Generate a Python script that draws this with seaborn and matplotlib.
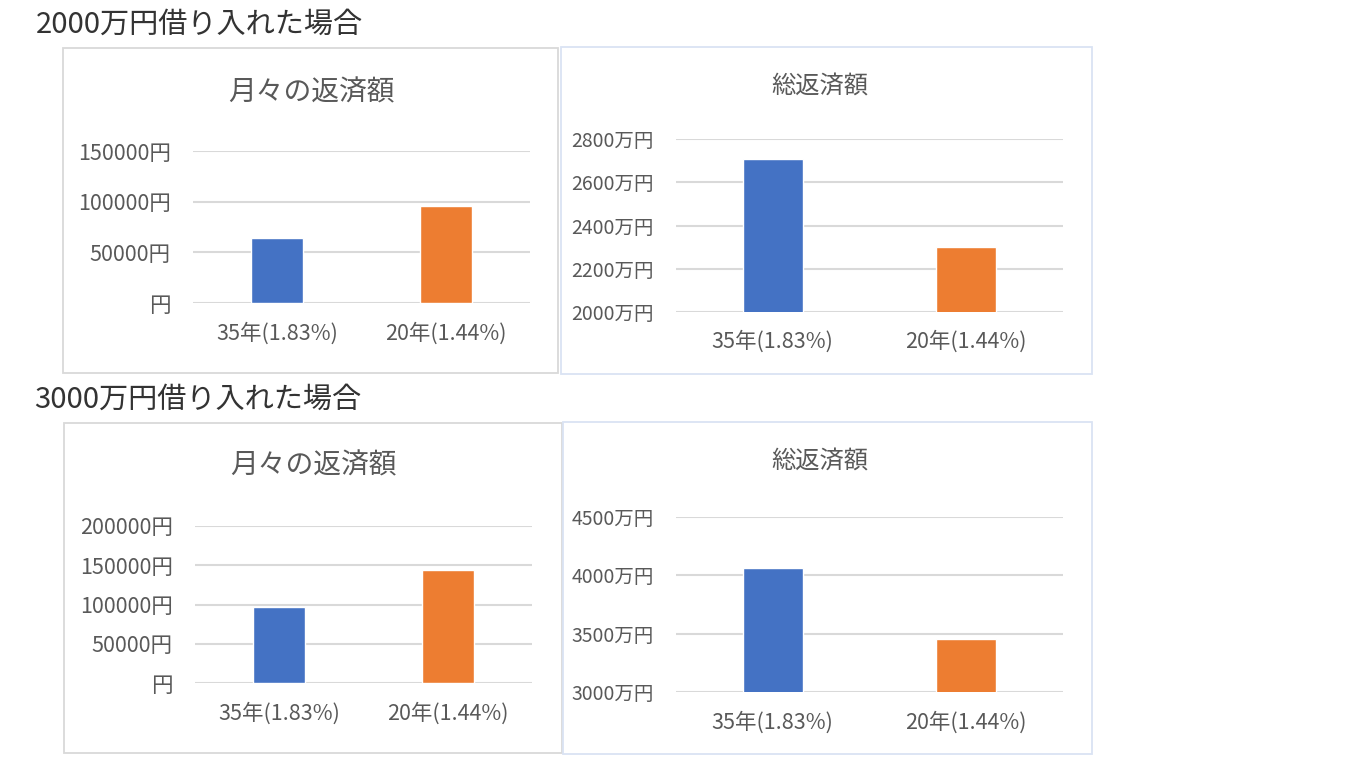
import matplotlib
matplotlib.use("Agg")
import matplotlib.pyplot as plt
from matplotlib.patches import Rectangle
import seaborn as sns
import pandas as pd

sns.set_theme(style="white")
plt.rcParams['font.family'] = ['Noto Sans CJK JP', 'DejaVu Sans']

# ---- data ----
categories = ["35年(1.83%)", "20年(1.44%)"]
monthly_2000 = [64500, 96000]      # 円
total_2000 = [2707, 2300]          # 万円
monthly_3000 = [96800, 143900]     # 円
total_3000 = [4065, 3454]          # 万円

section_titles = ["2000万円借り入れた場合", "3000万円借り入れた場合"]
panel_titles = ["月々の返済額", "総返済額"]

monthly_ticks_2000 = [0, 50000, 100000, 150000]
total_ticks_2000 = [2000, 2200, 2400, 2600, 2800]
monthly_ticks_3000 = [0, 50000, 100000, 150000, 200000]
total_ticks_3000 = [3000, 3500, 4000, 4500]

colors = ["#4472C4", "#ED7D31"]
W, H = 1366, 768
TEXT = "#595959"
GRID = "#D9D9D9"

fig = plt.figure(figsize=(W / 100, H / 100), dpi=100)
fig.patch.set_facecolor("white")


def fx(x):
    return x / W


def fy(y):
    return 1 - y / H


def border(x0, y0, x1, y1, color):
    fig.patches.append(Rectangle((fx(x0), fy(y1)), fx(x1) - fx(x0), fy(y0) - fy(y1),
                                 transform=fig.transFigure, fill=False,
                                 edgecolor=color, linewidth=1.3, zorder=0))


def panel(box, values, ticks, fmt, title, title_xy, title_size, ysize, xpad):
    x0, y0, x1, y1 = box
    ax = fig.add_axes([fx(x0), fy(y1), fx(x1) - fx(x0), fy(y0) - fy(y1)])
    df = pd.DataFrame({"cat": categories, "val": values})
    sns.barplot(data=df, x="cat", y="val", hue="cat", palette=colors, width=0.31,
                legend=False, ax=ax, zorder=3, saturation=1)
    ax.set_ylim(ticks[0], ticks[-1])
    ax.set_xlim(-0.5, 1.5)
    ax.set_yticks(ticks)
    ax.set_yticklabels([fmt(t) for t in ticks])
    for t in ticks:
        ax.axhline(t, color=GRID, linewidth=1.5, zorder=1)
    for s in ax.spines.values():
        s.set_visible(False)
    ax.set_xlabel("")
    ax.set_ylabel("")
    ax.tick_params(axis="y", length=0, pad=16, labelsize=ysize, labelcolor=TEXT)
    ax.tick_params(axis="x", length=0, pad=xpad, labelsize=15.5, labelcolor=TEXT)
    ax.grid(False)
    ax.set_facecolor("none")
    fig.text(fx(title_xy[0]), fy(title_xy[1]), title, ha="center", va="center",
             fontsize=title_size, color=TEXT)
    return ax


def yen(t):
    return "円" if t == 0 else f"{t}円"


def man(t):
    return f"{t}万円"


# borders
border(63, 48, 558, 373, "#D9D9D9")
border(561, 47, 1092, 374, "#DAE3F3")
border(64, 423, 562, 753, "#D9D9D9")
border(563, 422, 1092, 754, "#DAE3F3")

panel((193, 151, 530, 303), monthly_2000, monthly_ticks_2000, yen,
      panel_titles[0], (311, 92), 20, 15.5, 14)
panel((676, 139, 1063, 312), total_2000, total_ticks_2000, man,
      panel_titles[1], (820, 87), 17.5, 14, 13)
panel((195, 526, 532, 683), monthly_3000, monthly_ticks_3000, yen,
      panel_titles[0], (313, 465), 20, 15.5, 14)
panel((676, 517, 1063, 692), total_3000, total_ticks_3000, man,
      panel_titles[1], (820, 462), 17.5, 14, 14)

fig.text(fx(36), fy(25), section_titles[0], ha="left", va="center",
         fontsize=21, color="#333333")
fig.text(fx(34), fy(400), section_titles[1], ha="left", va="center",
         fontsize=21, color="#333333")

fig.savefig("out.png", dpi=100, facecolor="white")
